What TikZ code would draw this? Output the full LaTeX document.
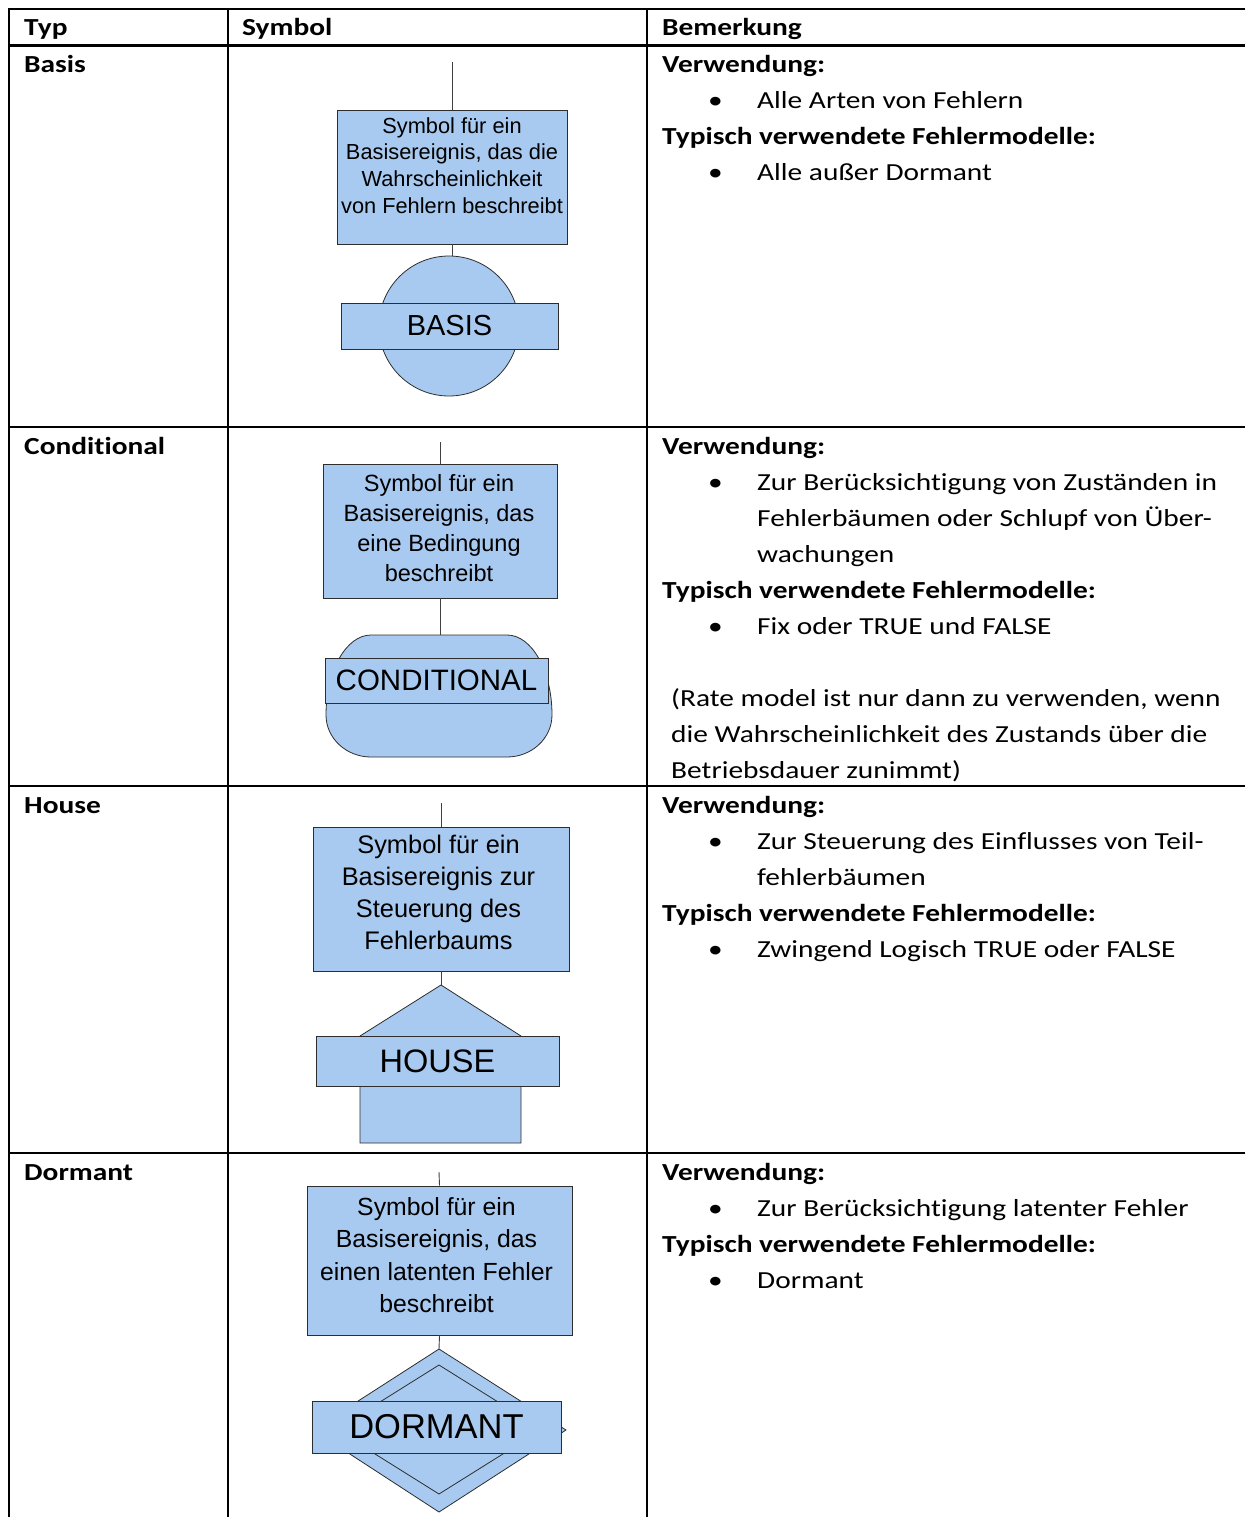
\documentclass[tikz,border=0pt]{standalone}
\usepackage{fontspec}
\setmainfont{Carlito}[FakeStretch=1.2, Ligatures=NoCommon]
\newfontfamily\symfont{Liberation Sans}
\usetikzlibrary{shapes.geometric}
\definecolor{evfill}{RGB}{169,202,240}
\definecolor{evline}{RGB}{45,45,45}
\begin{document}
\begin{tikzpicture}[x=1pt,y=-1pt,
  rule/.style={line width=2.2pt},
  heading/.style={font=\fontsize{24.5}{36}\selectfont\bfseries, anchor=base west, inner sep=0pt},
  plain/.style={font=\fontsize{24.5}{36}\selectfont, anchor=base west, inner sep=0pt},
  evbox/.style={draw=evline, fill=evfill, line width=0.8pt, inner sep=0pt, rectangle},
  evtext/.style={font=\symfont, align=center, anchor=north, inner sep=0pt},
  tag/.style={evbox, font=\symfont},
  wire/.style={draw=black!75, line width=0.9pt},
]
\useasboundingbox (0,0) rectangle (1245,1517);
\fill[white] (0,0) rectangle (1245,1517);

% ---------- table grid ----------
\draw[rule] (8,9) -- (1245,9);
\draw[rule] (8,45.5) -- (1245,45.5);
\draw[rule] (8,427) -- (1245,427);
\draw[rule] (8,786) -- (1245,786);
\draw[rule] (8,1153) -- (1245,1153);
\draw[rule] (9,8) -- (9,1517);
\draw[rule] (228,8) -- (228,1517);
\draw[rule] (647,8) -- (647,1517);

% ---------- header ----------
\node[heading] (hTyp) at (24,35.5) {Typ};
\node[heading] (hSym) at (242,35.5) {Symbol};
\node[heading] (hBem) at (662,35.5) {Bemerkung};

% ---------- row labels ----------
\node[heading] (tBasis) at (24,72.5) {Basis};
\node[heading] (tCond) at (24,454) {Conditional};
\node[heading] (tHouse) at (24,813) {House};
\node[heading] (tDorm) at (24,1180.5) {Dormant};

% ---------- remarks: Basis ----------
\node[heading] (rb1) at (662,72.5) {Verwendung:};
\node[plain] (rb2d) at (708,108.5) {•};
\node[plain] (rb2) at (757,108.5) {Alle Arten von Fehlern};
\node[heading] (rb3) at (662,144.5) {Typisch verwendete Fehlermodelle:};
\node[plain] (rb4d) at (708,180.5) {•};
\node[plain] (rb4) at (757,180.5) {Alle außer Dormant};

% ---------- remarks: Conditional ----------
\node[heading] (rc1) at (662,454) {Verwendung:};
\node[plain] (rc2d) at (708,490) {•};
\node[plain] (rc2) at (757,490) {Zur Berücksichtigung von Zuständen in};
\node[plain] (rc3) at (757,526) {Fehlerbäumen oder Schlupf von Über-};
\node[plain] (rc4) at (757,562) {wachungen};
\node[heading] (rc5) at (662,598) {Typisch verwendete Fehlermodelle:};
\node[plain] (rc6d) at (708,634) {•};
\node[plain] (rc6) at (757,634) {Fix oder TRUE und FALSE};
\node[plain] (rc7) at (671,706) {(Rate model ist nur dann zu verwenden, wenn};
\node[plain] (rc8) at (671,742) {die Wahrscheinlichkeit des Zustands über die};
\node[plain] (rc9) at (671,778) {Betriebsdauer zunimmt)};

% ---------- remarks: House ----------
\node[heading] (rh1) at (662,813) {Verwendung:};
\node[plain] (rh2d) at (708,849) {•};
\node[plain] (rh2) at (757,849) {Zur Steuerung des Einflusses von Teil-};
\node[plain] (rh3) at (757,885) {fehlerbäumen};
\node[heading] (rh4) at (662,921) {Typisch verwendete Fehlermodelle:};
\node[plain] (rh5d) at (708,957) {•};
\node[plain] (rh5) at (757,957) {Zwingend Logisch TRUE oder FALSE};

% ---------- remarks: Dormant ----------
\node[heading] (rd1) at (662,1180.5) {Verwendung:};
\node[plain] (rd2d) at (708,1216.5) {•};
\node[plain] (rd2) at (757,1216.5) {Zur Berücksichtigung latenter Fehler};
\node[heading] (rd3) at (662,1252.5) {Typisch verwendete Fehlermodelle:};
\node[plain] (rd4d) at (708,1288.5) {•};
\node[plain] (rd4) at (757,1288.5) {Dormant};

% ---------- symbol: BASIS ----------
\coordinate (sB) at (452,62);
\node[evbox, minimum width=230pt, minimum height=134pt] (bB) at (452,177) {};
\node[evtext, font=\symfont\fontsize{21.8}{26.7}\selectfont] (xB) at (452,117.1)
  {Symbol für ein\\Basisereignis, das die\\Wahrscheinlichkeit\\von Fehlern beschreibt};
\node[evbox, circle, minimum size=140pt] (cB) at (449,326) {};
\draw[wire] (sB) -- (bB.north);
\draw[wire] (bB.south) -- (bB.south |- cB.north);
\node[tag, minimum width=217pt, minimum height=46pt, font=\symfont\fontsize{29}{30}\selectfont] (lB) at (449.5,326) {BASIS};

% ---------- symbol: CONDITIONAL ----------
\coordinate (sC) at (440,442);
\node[evbox, minimum width=234pt, minimum height=134pt] (bC) at (440,531) {};
\node[evtext, font=\symfont\fontsize{23.5}{30}\selectfont] (xC) at (439,474.5)
  {Symbol für ein\\Basisereignis, das\\eine Bedingung\\beschreibt};
\coordinate (cC) at (440,635);
\draw[evbox] (371,635) -- (507,635)
  .. controls (531.8,635) and (552,670.8) .. (552,715)
  .. controls (552,738.2) and (531.8,757) .. (507,757)
  -- (371,757)
  .. controls (346.2,757) and (326,738.2) .. (326,715)
  .. controls (326,670.8) and (346.2,635) .. (371,635) -- cycle;
\draw[wire] (sC) -- (bC.north);
\draw[wire] (bC.south) -- (cC);
\node[tag, minimum width=223pt, minimum height=45pt, font=\symfont\fontsize{29.5}{30}\selectfont] (lC) at (436.5,680.5) {CONDITIONAL};

% ---------- symbol: HOUSE ----------
\coordinate (sH) at (441,803);
\node[evbox, minimum width=256pt, minimum height=144pt] (bH) at (441,899) {};
\node[evtext, font=\symfont\fontsize{25.4}{32.2}\selectfont] (xH) at (438.5,834.5)
  {Symbol für ein\\Basisereignis zur\\Steuerung des\\Fehlerbaums};
\coordinate (cH) at (441,985);
\draw[evbox] (cH) -- (521,1036) -- (521,1143) -- (360,1143) -- (360,1036) -- cycle;
\draw[wire] (sH) -- (bH.north);
\draw[wire] (bH.south) -- (cH);
\node[tag, minimum width=243pt, minimum height=50pt, font=\symfont\fontsize{32.5}{34}\selectfont] (lH) at (437.5,1061) {HOUSE};

% ---------- symbol: DORMANT ----------
\coordinate (sD) at (439,1172);
\node[evbox, minimum width=265pt, minimum height=149pt] (bD) at (439.5,1260.5) {};
\node[evtext, font=\symfont\fontsize{24.8}{32.6}\selectfont] (xD) at (436.5,1196.9)
  {Symbol für ein\\Basisereignis, das\\einen latenten Fehler\\beschreibt};
\coordinate (cD) at (439,1349);
\draw[evbox] (cD) -- (566,1430) -- (439,1512) -- (313,1430) -- cycle;
\draw[evbox] (439,1365) -- (542,1429.5) -- (439,1494) -- (336,1429.5) -- cycle;
\draw[wire] (sD) -- (bD.north);
\draw[wire] (bD.south) -- (cD);
\node[tag, minimum width=249pt, minimum height=52pt, font=\symfont\fontsize{34.5}{36}\selectfont] (lD) at (436.5,1427) {DORMANT};
\end{tikzpicture}
\end{document}
